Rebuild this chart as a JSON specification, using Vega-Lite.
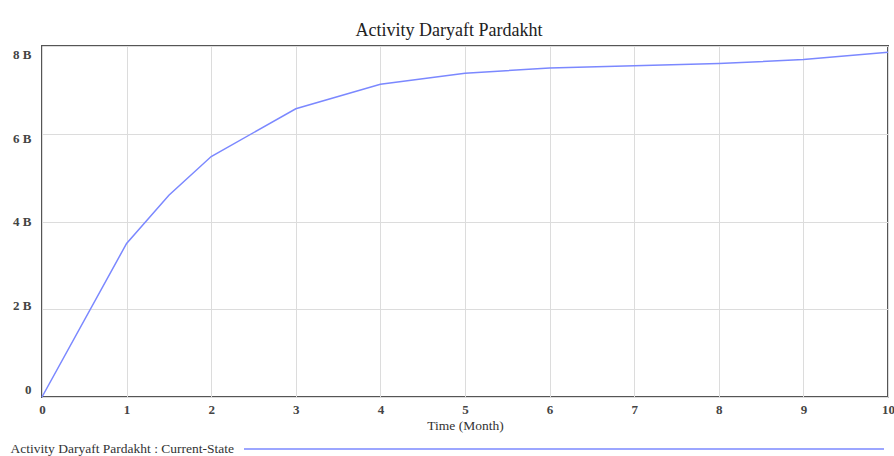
{
  "$schema": "https://vega.github.io/schema/vega-lite/v6.json",
  "autosize": "none",
  "width": 846,
  "height": 351,
  "padding": {"left": 42, "top": 46, "right": 6, "bottom": 59},
  "background": "white",
  "title": {"text": "Activity Daryaft Pardakht", "font": "'Liberation Serif', 'Times New Roman', serif", "fontSize": 18, "fontWeight": "normal", "color": "#222", "offset": 6, "dx": -16},
  "config": {
    "view": {"stroke": "#555", "strokeWidth": 2},
    "axis": {"labelFont": "'Liberation Serif', 'Times New Roman', serif", "labelFontSize": 13, "labelFontWeight": "bold", "labelColor": "#444", "titleFont": "'Liberation Serif', 'Times New Roman', serif", "titleFontSize": 13.5, "titleFontWeight": "normal", "titleColor": "#333", "gridColor": "#dcdcdc", "gridWidth": 1, "domain": false, "ticks": false, "labelOverlap": false}
  },
  "data": {"values": [
    {"t": 0, "v": 0, "s": "Activity Daryaft Pardakht : Current-State"},
    {"t": 1, "v": 3.5e9, "s": "Activity Daryaft Pardakht : Current-State"},
    {"t": 1.5, "v": 4.6e9, "s": "Activity Daryaft Pardakht : Current-State"},
    {"t": 2, "v": 5.48e9, "s": "Activity Daryaft Pardakht : Current-State"},
    {"t": 3, "v": 6.57e9, "s": "Activity Daryaft Pardakht : Current-State"},
    {"t": 4, "v": 7.13e9, "s": "Activity Daryaft Pardakht : Current-State"},
    {"t": 5, "v": 7.38e9, "s": "Activity Daryaft Pardakht : Current-State"},
    {"t": 6, "v": 7.5e9, "s": "Activity Daryaft Pardakht : Current-State"},
    {"t": 7, "v": 7.55e9, "s": "Activity Daryaft Pardakht : Current-State"},
    {"t": 8, "v": 7.6e9, "s": "Activity Daryaft Pardakht : Current-State"},
    {"t": 9, "v": 7.69e9, "s": "Activity Daryaft Pardakht : Current-State"},
    {"t": 10, "v": 7.86e9, "s": "Activity Daryaft Pardakht : Current-State"}
  ]},
  "mark": {"type": "line", "strokeWidth": 1.5},
  "encoding": {
    "x": {"field": "t", "type": "quantitative", "scale": {"domain": [0, 10], "nice": false}, "axis": {"title": "Time (Month)", "values": [0,1,2,3,4,5,6,7,8,9,10], "labelPadding": 6, "titlePadding": 2, "labelFlush": false}},
    "y": {"field": "v", "type": "quantitative", "scale": {"domain": [0, 8e9], "nice": false}, "axis": {"title": null, "values": [0, 2e9, 4e9, 6e9, 8e9], "labelExpr": "datum.value == 0 ? '0' : (datum.value/1e9) + ' B'", "labelPadding": 11, "labelFlush": false, "labelOffset": {"condition": [{"test": "datum.value == 0", "value": -8}, {"test": "datum.value == 2e9", "value": -4}, {"test": "datum.value == 6e9", "value": 5}, {"test": "datum.value == 8e9", "value": 8}], "value": 0}}},
    "color": {"field": "s", "type": "nominal", "scale": {"range": ["#7b88ff"]}, "legend": {"orient": "none", "legendX": 201, "legendY": 82, "title": null, "symbolType": "stroke", "symbolSize": 409600, "symbolStrokeWidth": 1.5, "labelAlign": "right", "labelOffset": -651, "labelLimit": 400, "labelFont": "'Liberation Serif', 'Times New Roman', serif", "labelFontSize": 13.5, "labelColor": "#333"}}
  }
}
